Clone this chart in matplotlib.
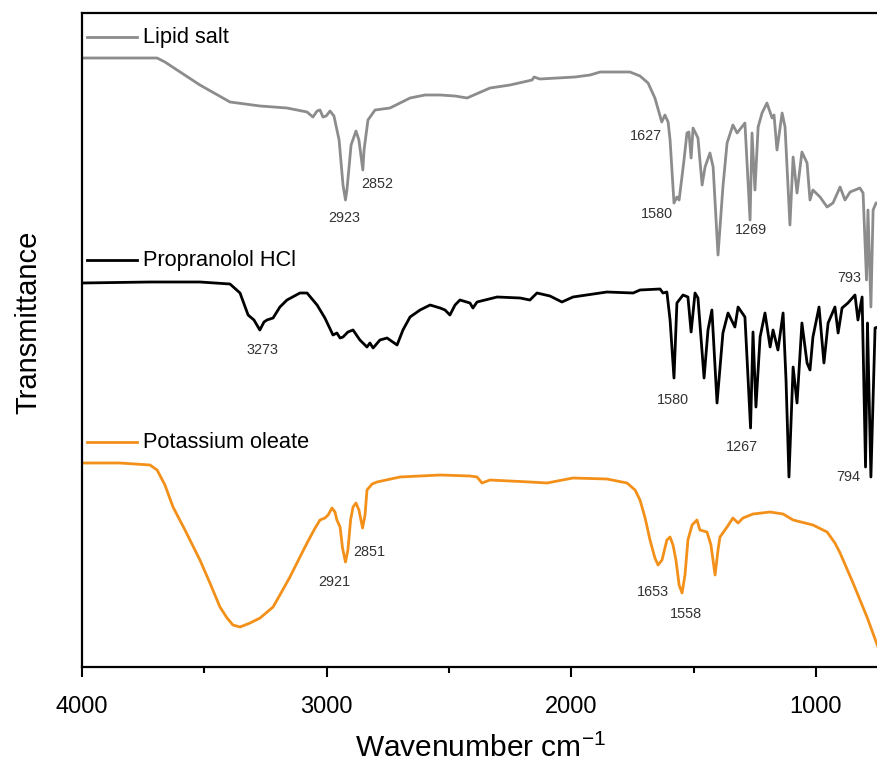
import matplotlib
matplotlib.use("Agg")
import matplotlib.pyplot as plt

plt.rcParams['font.family'] = ['Liberation Sans', 'DejaVu Sans']
plt.rcParams['mathtext.fontset'] = 'custom'
plt.rcParams['mathtext.rm'] = 'Liberation Sans'

# FTIR spectra, wavenumber (cm-1) vs transmittance (a.u., offset traces)
lipid_wn = [4000, 3693, 3661, 3518, 3395, 3272, 3162, 3080, 3056, 3039,
            3027, 3015, 3002, 2986, 2970, 2949, 2933, 2923, 2917, 2900,
            2880, 2868, 2852, 2847, 2831, 2802, 2741, 2659, 2598, 2536,
            2475, 2426, 2332, 2250, 2160, 2152, 2128, 1985, 1923, 1882,
            1760, 1719, 1686, 1658, 1630, 1617, 1604, 1596, 1580, 1568,
            1559, 1539, 1527, 1519, 1510, 1502, 1482, 1465, 1453, 1433,
            1420, 1400, 1380, 1363, 1339, 1322, 1290, 1269, 1261, 1249,
            1236, 1220, 1200, 1179, 1171, 1159, 1138, 1126, 1106, 1093,
            1077, 1057, 1036, 1024, 1012, 983, 954, 930, 901, 881,
            860, 820, 807, 793, 787, 775, 766, 754, 746]
lipid_t = [609, 609, 605, 582, 565, 561, 559, 555, 550, 556,
           557, 550, 551, 556, 551, 527, 482, 467, 477, 522,
           536, 527, 497, 517, 547, 557, 559, 569, 572, 572,
           571, 569, 579, 582, 587, 590, 588, 590, 592, 595,
           595, 591, 584, 569, 545, 552, 545, 527, 464, 470,
           467, 507, 534, 535, 509, 539, 529, 482, 500, 514,
           500, 412, 480, 524, 542, 534, 544, 447, 534, 477,
           540, 554, 564, 549, 552, 517, 554, 540, 442, 510,
           474, 515, 504, 467, 477, 470, 460, 464, 480, 467,
           475, 479, 474, 387, 457, 360, 457, 464, 464]

prop_wn = [4000, 3722, 3518, 3395, 3354, 3321, 3297, 3273, 3256, 3244,
           3219, 3191, 3162, 3109, 3080, 3039, 3007, 2974, 2958, 2945,
           2933, 2913, 2892, 2864, 2835, 2823, 2810, 2782, 2753, 2712,
           2688, 2659, 2618, 2577, 2536, 2516, 2496, 2475, 2455, 2414,
           2402, 2385, 2303, 2209, 2169, 2140, 2087, 2038, 1993, 1854,
           1747, 1719, 1637, 1625, 1609, 1596, 1580, 1568, 1543, 1523,
           1510, 1494, 1482, 1457, 1441, 1425, 1404, 1380, 1359, 1331,
           1318, 1290, 1281, 1267, 1257, 1245, 1228, 1208, 1187, 1175,
           1155, 1134, 1122, 1110, 1093, 1077, 1057, 1036, 1024, 1012,
           987, 967, 950, 922, 909, 893, 869, 840, 828, 811,
           797, 789, 782, 775, 758, 746]
prop_t = [384, 385, 385, 383, 374, 352, 347, 337, 345, 347,
          349, 360, 367, 374, 374, 362, 349, 332, 334, 329,
          330, 335, 337, 327, 320, 324, 319, 327, 329, 322,
          337, 350, 357, 362, 359, 357, 352, 362, 367, 364,
          359, 365, 370, 369, 367, 374, 371, 365, 370, 375,
          374, 377, 378, 374, 375, 347, 289, 364, 372, 370,
          335, 374, 369, 289, 337, 357, 264, 334, 354, 340,
          360, 350, 307, 239, 335, 260, 330, 354, 320, 337,
          317, 354, 287, 190, 300, 264, 344, 304, 297, 330,
          360, 304, 344, 360, 334, 359, 364, 372, 347, 370,
          200, 344, 267, 190, 339, 340]

oleate_wn = [4000, 3845, 3722, 3693, 3661, 3628, 3579, 3518, 3477, 3436,
             3407, 3383, 3354, 3313, 3272, 3219, 3191, 3150, 3109, 3080,
             3047, 3027, 3007, 2994, 2978, 2966, 2958, 2945, 2935, 2923,
             2913, 2902, 2892, 2880, 2868, 2853, 2843, 2835, 2814, 2794,
             2700, 2536, 2414, 2385, 2365, 2332, 2169, 2099, 1993, 1854,
             1772, 1739, 1719, 1698, 1678, 1658, 1645, 1629, 1609, 1596,
             1584, 1572, 1559, 1547, 1535, 1523, 1506, 1486, 1474, 1445,
             1429, 1412, 1400, 1392, 1363, 1339, 1318, 1298, 1257, 1187,
             1134, 1093, 1012, 954, 922, 901, 848, 791, 746]
oleate_t = [204, 204, 202, 197, 182, 160, 137, 107, 84, 60,
            49, 42, 40, 44, 49, 60, 72, 90, 110, 124,
            139, 147, 149, 152, 159, 155, 147, 140, 119, 105,
            117, 147, 160, 164, 157, 139, 152, 177, 183, 185,
            190, 192, 191, 190, 184, 187, 185, 184, 189, 188,
            184, 177, 167, 149, 127, 109, 102, 107, 127, 130,
            122, 107, 82, 74, 92, 127, 142, 147, 137, 135,
            122, 92, 117, 130, 140, 149, 144, 149, 153, 155,
            153, 147, 142, 135, 124, 114, 84, 50, 20]

series_names = ['Lipid salt', 'Propranolol HCl', 'Potassium oleate']
series_colors = ['#8c8c8c', '#000000', '#f39019']

# peak labels: text, wavenumber, transmittance
peak_text = ['2923', '2852', '1627', '1580', '1269', '793',
             '3273', '1580', '1267', '794',
             '2921', '2851', '1653', '1558']
peak_wn = [2929, 2794, 1694, 1649, 1265, 864,
           3264, 1584, 1302, 869,
           2970, 2827, 1666, 1531]
peak_t = [449, 483, 531, 453, 437, 389,
          317, 267, 220, 190,
          85, 115, 75, 53]

fig = plt.figure(figsize=(8.78, 7.62), dpi=100)
ax = fig.add_axes([82 / 878, 95 / 762, 796 / 878, 654 / 762])

spectra = [(lipid_wn, lipid_t), (prop_wn, prop_t), (oleate_wn, oleate_t)]
for (wn, t), c in zip(spectra, series_colors):
    ax.plot(wn, t, color=c, linewidth=2.0, solid_joinstyle='round')

for txt, w, t in zip(peak_text, peak_wn, peak_t):
    ax.text(w, t, txt, fontsize=10.4, color='#333333', ha='center', va='center')

# legend-like labels over each trace
label_y = [0.963, 0.622, 0.344]
for name, c, y in zip(series_names, series_colors, label_y):
    ax.plot([0.006, 0.069], [y, y], color=c, linewidth=2.0, transform=ax.transAxes)
    ax.text(0.077, y, name, fontsize=15.7, color='black', va='center',
            transform=ax.transAxes)

ax.set_xlim(4000, 746)
ax.set_ylim(0, 654)
ax.set_xticks([4000, 3000, 2000, 1000])
ax.set_xticks([3500, 2500, 1500], minor=True)
ax.set_yticks([])
ax.tick_params(axis='x', which='major', direction='out', length=7, width=1.5,
               labelsize=17, pad=14)
ax.tick_params(axis='x', which='minor', direction='out', length=4, width=1.5)
ax.spines['right'].set_visible(False)
for s in ['left', 'top', 'bottom']:
    ax.spines[s].set_linewidth(1.6)

ax.set_xlabel('Wavenumber cm$^{\\mathregular{-1}}$', fontsize=21.5, labelpad=11)
ax.set_ylabel('Transmittance', fontsize=21)
ax.yaxis.set_label_coords(-0.05, 0.527)

fig.savefig('out.png', dpi=100)
